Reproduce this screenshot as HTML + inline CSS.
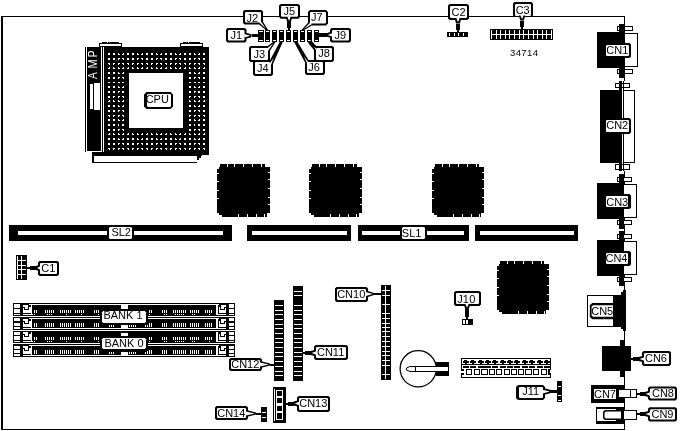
<!DOCTYPE html>
<html><head><meta charset="utf-8"><title>Motherboard</title>
<style>
html,body{margin:0;padding:0;background:#fff;}
body{width:683px;height:431px;overflow:hidden;font-family:"Liberation Sans",sans-serif;}
svg{display:block;will-change:transform;}
svg text{font-family:"Liberation Sans",sans-serif;}
</style></head><body>
<svg width="683" height="431" viewBox="0 0 683 431" shape-rendering="crispEdges">
<rect x="0" y="0" width="683" height="431" fill="#fff"/>
<rect x="1" y="16" width="2" height="414" fill="#000"/>
<rect x="1" y="16" width="624" height="1" fill="#000"/>
<rect x="1" y="429" width="624" height="1" fill="#000"/>
<rect x="624" y="16" width="1" height="414" fill="#000"/>
<rect x="102" y="42" width="17" height="1" fill="#000"/>
<rect x="99" y="43" width="23" height="4" fill="#000"/>
<rect x="100" y="44" width="21" height="2" fill="#fff"/>
<rect x="107" y="42" width="1" height="1" fill="#fff"/>
<rect x="183" y="42" width="17" height="1" fill="#000"/>
<rect x="180" y="43" width="23" height="4" fill="#000"/>
<rect x="181" y="44" width="21" height="2" fill="#fff"/>
<rect x="188" y="42" width="1" height="1" fill="#fff"/>
<rect x="85" y="47" width="1" height="105" fill="#000"/>
<rect x="87" y="47" width="14" height="104" fill="#000"/>
<rect x="102" y="47" width="1" height="105" fill="#000"/>
<rect x="90" y="84" width="3" height="25" fill="#fff"/>
<rect x="94" y="83" width="6" height="27" fill="#fff"/>
<rect x="104" y="47" width="105" height="108" fill="#000"/>
<rect x="92" y="152" width="110" height="11" fill="#000"/>
<rect x="94" y="156" width="103" height="6" fill="#fff"/>
<rect x="197" y="160" width="6" height="3" fill="#fff"/>
<rect x="199" y="158" width="4" height="2" fill="#fff"/>
<rect x="201" y="156" width="2" height="2" fill="#fff"/>
<rect x="104" y="152" width="105" height="3" fill="#000"/>
<rect x="129" y="73" width="54" height="55" fill="#fff"/>
<path fill="#fff" d="M108 53h2v1h-2zM113 53h2v1h-2zM118 53h1v1h-1zM123 53h1v1h-1zM127 53h2v1h-2zM132 53h2v1h-2zM137 53h1v1h-1zM142 53h1v1h-1zM146 53h2v1h-2zM151 53h2v1h-2zM156 53h1v1h-1zM161 53h1v1h-1zM165 53h2v1h-2zM170 53h2v1h-2zM175 53h1v1h-1zM180 53h1v1h-1zM184 53h2v1h-2zM189 53h2v1h-2zM194 53h1v1h-1zM199 53h1v1h-1zM203 53h2v1h-2zM108 54h2v1h-2zM113 54h2v1h-2zM118 54h2v1h-2zM122 54h2v1h-2zM127 54h2v1h-2zM132 54h2v1h-2zM137 54h2v1h-2zM141 54h2v1h-2zM146 54h2v1h-2zM151 54h2v1h-2zM156 54h2v1h-2zM160 54h2v1h-2zM165 54h2v1h-2zM170 54h2v1h-2zM175 54h2v1h-2zM179 54h2v1h-2zM184 54h2v1h-2zM189 54h2v1h-2zM194 54h2v1h-2zM198 54h2v1h-2zM203 54h2v1h-2zM108 58h2v1h-2zM113 58h2v1h-2zM118 58h2v1h-2zM122 58h2v1h-2zM127 58h2v1h-2zM132 58h2v1h-2zM137 58h2v1h-2zM141 58h2v1h-2zM146 58h2v1h-2zM151 58h2v1h-2zM156 58h2v1h-2zM160 58h2v1h-2zM165 58h2v1h-2zM170 58h2v1h-2zM175 58h2v1h-2zM179 58h2v1h-2zM184 58h2v1h-2zM189 58h2v1h-2zM194 58h2v1h-2zM198 58h2v1h-2zM203 58h2v1h-2zM108 59h2v1h-2zM113 59h2v1h-2zM118 59h1v1h-1zM123 59h1v1h-1zM127 59h2v1h-2zM132 59h2v1h-2zM137 59h1v1h-1zM142 59h1v1h-1zM146 59h2v1h-2zM151 59h2v1h-2zM156 59h1v1h-1zM161 59h1v1h-1zM165 59h2v1h-2zM170 59h2v1h-2zM175 59h1v1h-1zM180 59h1v1h-1zM184 59h2v1h-2zM189 59h2v1h-2zM194 59h1v1h-1zM199 59h1v1h-1zM203 59h2v1h-2zM108 63h2v1h-2zM113 63h2v1h-2zM118 63h2v1h-2zM122 63h2v1h-2zM127 63h2v1h-2zM132 63h2v1h-2zM137 63h2v1h-2zM141 63h2v1h-2zM146 63h2v1h-2zM151 63h2v1h-2zM156 63h2v1h-2zM160 63h2v1h-2zM165 63h2v1h-2zM170 63h2v1h-2zM175 63h2v1h-2zM179 63h2v1h-2zM184 63h2v1h-2zM189 63h2v1h-2zM194 63h2v1h-2zM198 63h2v1h-2zM203 63h2v1h-2zM109 64h1v1h-1zM113 64h1v1h-1zM118 64h1v1h-1zM123 64h1v1h-1zM128 64h1v1h-1zM132 64h1v1h-1zM137 64h1v1h-1zM142 64h1v1h-1zM147 64h1v1h-1zM151 64h1v1h-1zM156 64h1v1h-1zM161 64h1v1h-1zM166 64h1v1h-1zM170 64h1v1h-1zM175 64h1v1h-1zM180 64h1v1h-1zM185 64h1v1h-1zM189 64h1v1h-1zM194 64h1v1h-1zM199 64h1v1h-1zM204 64h1v1h-1zM109 67h1v1h-1zM113 67h1v1h-1zM118 67h1v1h-1zM123 67h1v1h-1zM128 67h1v1h-1zM132 67h1v1h-1zM137 67h1v1h-1zM142 67h1v1h-1zM147 67h1v1h-1zM151 67h1v1h-1zM156 67h1v1h-1zM161 67h1v1h-1zM166 67h1v1h-1zM170 67h1v1h-1zM175 67h1v1h-1zM180 67h1v1h-1zM185 67h1v1h-1zM189 67h1v1h-1zM194 67h1v1h-1zM199 67h1v1h-1zM204 67h1v1h-1zM108 68h2v1h-2zM113 68h2v1h-2zM118 68h2v1h-2zM122 68h2v1h-2zM127 68h2v1h-2zM132 68h2v1h-2zM137 68h2v1h-2zM141 68h2v1h-2zM146 68h2v1h-2zM151 68h2v1h-2zM156 68h2v1h-2zM160 68h2v1h-2zM165 68h2v1h-2zM170 68h2v1h-2zM175 68h2v1h-2zM179 68h2v1h-2zM184 68h2v1h-2zM189 68h2v1h-2zM194 68h2v1h-2zM198 68h2v1h-2zM203 68h2v1h-2zM108 72h2v1h-2zM113 72h2v1h-2zM118 72h1v1h-1zM123 72h1v1h-1zM189 72h2v1h-2zM194 72h1v1h-1zM199 72h1v1h-1zM203 72h2v1h-2zM108 73h2v1h-2zM113 73h2v1h-2zM118 73h2v1h-2zM122 73h2v1h-2zM189 73h2v1h-2zM194 73h2v1h-2zM198 73h2v1h-2zM203 73h2v1h-2zM108 77h2v1h-2zM113 77h2v1h-2zM118 77h2v1h-2zM122 77h2v1h-2zM189 77h2v1h-2zM194 77h2v1h-2zM198 77h2v1h-2zM203 77h2v1h-2zM108 78h2v1h-2zM113 78h2v1h-2zM118 78h1v1h-1zM123 78h1v1h-1zM189 78h2v1h-2zM194 78h1v1h-1zM199 78h1v1h-1zM203 78h2v1h-2zM108 82h2v1h-2zM113 82h2v1h-2zM118 82h2v1h-2zM122 82h2v1h-2zM189 82h2v1h-2zM194 82h2v1h-2zM198 82h2v1h-2zM203 82h2v1h-2zM108 86h2v1h-2zM113 86h2v1h-2zM118 86h1v1h-1zM123 86h1v1h-1zM189 86h2v1h-2zM194 86h1v1h-1zM199 86h1v1h-1zM203 86h2v1h-2zM108 87h2v1h-2zM113 87h2v1h-2zM118 87h2v1h-2zM122 87h2v1h-2zM189 87h2v1h-2zM194 87h2v1h-2zM198 87h2v1h-2zM203 87h2v1h-2zM108 91h2v1h-2zM113 91h2v1h-2zM118 91h2v1h-2zM122 91h2v1h-2zM189 91h2v1h-2zM194 91h2v1h-2zM198 91h2v1h-2zM203 91h2v1h-2zM108 92h2v1h-2zM113 92h2v1h-2zM118 92h1v1h-1zM122 92h2v1h-2zM189 92h2v1h-2zM194 92h1v1h-1zM198 92h2v1h-2zM203 92h2v1h-2zM108 96h2v1h-2zM113 96h2v1h-2zM118 96h2v1h-2zM122 96h2v1h-2zM189 96h2v1h-2zM194 96h2v1h-2zM198 96h2v1h-2zM203 96h2v1h-2zM108 97h2v1h-2zM113 97h1v1h-1zM118 97h1v1h-1zM123 97h1v1h-1zM189 97h1v1h-1zM194 97h1v1h-1zM199 97h1v1h-1zM203 97h2v1h-2zM109 100h1v1h-1zM113 100h1v1h-1zM118 100h1v1h-1zM123 100h1v1h-1zM189 100h1v1h-1zM194 100h1v1h-1zM199 100h1v1h-1zM204 100h1v1h-1zM108 101h2v1h-2zM113 101h2v1h-2zM118 101h2v1h-2zM122 101h2v1h-2zM189 101h2v1h-2zM194 101h2v1h-2zM198 101h2v1h-2zM203 101h2v1h-2zM108 105h2v1h-2zM113 105h2v1h-2zM118 105h1v1h-1zM123 105h1v1h-1zM189 105h2v1h-2zM194 105h1v1h-1zM199 105h1v1h-1zM203 105h2v1h-2zM108 106h2v1h-2zM113 106h2v1h-2zM118 106h2v1h-2zM122 106h2v1h-2zM189 106h2v1h-2zM194 106h2v1h-2zM198 106h2v1h-2zM203 106h2v1h-2zM108 110h2v1h-2zM113 110h2v1h-2zM118 110h2v1h-2zM122 110h2v1h-2zM189 110h2v1h-2zM194 110h2v1h-2zM198 110h2v1h-2zM203 110h2v1h-2zM108 111h2v1h-2zM113 111h2v1h-2zM118 111h1v1h-1zM123 111h1v1h-1zM189 111h2v1h-2zM194 111h1v1h-1zM199 111h1v1h-1zM203 111h2v1h-2zM108 115h2v1h-2zM113 115h2v1h-2zM118 115h2v1h-2zM122 115h2v1h-2zM189 115h2v1h-2zM194 115h2v1h-2zM198 115h2v1h-2zM203 115h2v1h-2zM109 116h1v1h-1zM113 116h1v1h-1zM118 116h1v1h-1zM123 116h1v1h-1zM189 116h1v1h-1zM194 116h1v1h-1zM199 116h1v1h-1zM204 116h1v1h-1zM108 119h2v1h-2zM113 119h2v1h-2zM118 119h1v1h-1zM123 119h1v1h-1zM189 119h2v1h-2zM194 119h1v1h-1zM199 119h1v1h-1zM203 119h2v1h-2zM108 120h2v1h-2zM113 120h2v1h-2zM118 120h2v1h-2zM122 120h2v1h-2zM189 120h2v1h-2zM194 120h2v1h-2zM198 120h2v1h-2zM203 120h2v1h-2zM108 124h2v1h-2zM113 124h2v1h-2zM118 124h1v1h-1zM122 124h2v1h-2zM189 124h2v1h-2zM194 124h1v1h-1zM198 124h2v1h-2zM203 124h2v1h-2zM108 125h2v1h-2zM113 125h2v1h-2zM118 125h1v1h-1zM122 125h2v1h-2zM189 125h2v1h-2zM194 125h1v1h-1zM198 125h2v1h-2zM203 125h2v1h-2zM108 129h2v1h-2zM113 129h2v1h-2zM118 129h2v1h-2zM122 129h2v1h-2zM189 129h2v1h-2zM194 129h2v1h-2zM198 129h2v1h-2zM203 129h2v1h-2zM108 130h2v1h-2zM113 130h2v1h-2zM118 130h1v1h-1zM123 130h1v1h-1zM189 130h2v1h-2zM194 130h1v1h-1zM199 130h1v1h-1zM203 130h2v1h-2zM109 133h1v1h-1zM113 133h1v1h-1zM118 133h1v1h-1zM123 133h1v1h-1zM128 133h1v1h-1zM132 133h1v1h-1zM137 133h1v1h-1zM142 133h1v1h-1zM147 133h1v1h-1zM151 133h1v1h-1zM156 133h1v1h-1zM161 133h1v1h-1zM166 133h1v1h-1zM170 133h1v1h-1zM175 133h1v1h-1zM180 133h1v1h-1zM185 133h1v1h-1zM189 133h1v1h-1zM194 133h1v1h-1zM199 133h1v1h-1zM204 133h1v1h-1zM108 134h2v1h-2zM113 134h2v1h-2zM118 134h2v1h-2zM122 134h2v1h-2zM127 134h2v1h-2zM132 134h2v1h-2zM137 134h2v1h-2zM141 134h2v1h-2zM146 134h2v1h-2zM151 134h2v1h-2zM156 134h2v1h-2zM160 134h2v1h-2zM165 134h2v1h-2zM170 134h2v1h-2zM175 134h2v1h-2zM179 134h2v1h-2zM184 134h2v1h-2zM189 134h2v1h-2zM194 134h2v1h-2zM198 134h2v1h-2zM203 134h2v1h-2zM108 138h2v1h-2zM113 138h2v1h-2zM118 138h1v1h-1zM123 138h1v1h-1zM127 138h2v1h-2zM132 138h2v1h-2zM137 138h1v1h-1zM142 138h1v1h-1zM146 138h2v1h-2zM151 138h2v1h-2zM156 138h1v1h-1zM161 138h1v1h-1zM165 138h2v1h-2zM170 138h2v1h-2zM175 138h1v1h-1zM180 138h1v1h-1zM184 138h2v1h-2zM189 138h2v1h-2zM194 138h1v1h-1zM199 138h1v1h-1zM203 138h2v1h-2zM108 139h2v1h-2zM113 139h2v1h-2zM118 139h2v1h-2zM122 139h2v1h-2zM127 139h2v1h-2zM132 139h2v1h-2zM137 139h2v1h-2zM141 139h2v1h-2zM146 139h2v1h-2zM151 139h2v1h-2zM156 139h2v1h-2zM160 139h2v1h-2zM165 139h2v1h-2zM170 139h2v1h-2zM175 139h2v1h-2zM179 139h2v1h-2zM184 139h2v1h-2zM189 139h2v1h-2zM194 139h2v1h-2zM198 139h2v1h-2zM203 139h2v1h-2zM108 143h2v1h-2zM113 143h2v1h-2zM118 143h2v1h-2zM122 143h2v1h-2zM127 143h2v1h-2zM132 143h2v1h-2zM137 143h2v1h-2zM141 143h2v1h-2zM146 143h2v1h-2zM151 143h2v1h-2zM156 143h2v1h-2zM160 143h2v1h-2zM165 143h2v1h-2zM170 143h2v1h-2zM175 143h2v1h-2zM179 143h2v1h-2zM184 143h2v1h-2zM189 143h2v1h-2zM194 143h2v1h-2zM198 143h2v1h-2zM203 143h2v1h-2zM108 144h2v1h-2zM113 144h2v1h-2zM118 144h1v1h-1zM123 144h1v1h-1zM127 144h2v1h-2zM132 144h2v1h-2zM137 144h1v1h-1zM142 144h1v1h-1zM146 144h2v1h-2zM151 144h2v1h-2zM156 144h1v1h-1zM161 144h1v1h-1zM165 144h2v1h-2zM170 144h2v1h-2zM175 144h1v1h-1zM180 144h1v1h-1zM184 144h2v1h-2zM189 144h2v1h-2zM194 144h1v1h-1zM199 144h1v1h-1zM203 144h2v1h-2zM108 148h2v1h-2zM113 148h2v1h-2zM118 148h2v1h-2zM122 148h2v1h-2zM127 148h2v1h-2zM132 148h2v1h-2zM137 148h2v1h-2zM141 148h2v1h-2zM146 148h2v1h-2zM151 148h2v1h-2zM156 148h2v1h-2zM160 148h2v1h-2zM165 148h2v1h-2zM170 148h2v1h-2zM175 148h2v1h-2zM179 148h2v1h-2zM184 148h2v1h-2zM189 148h2v1h-2zM194 148h2v1h-2zM198 148h2v1h-2zM203 148h2v1h-2zM109 149h1v1h-1zM113 149h1v1h-1zM118 149h1v1h-1zM123 149h1v1h-1zM128 149h1v1h-1zM132 149h1v1h-1zM137 149h1v1h-1zM142 149h1v1h-1zM147 149h1v1h-1zM151 149h1v1h-1zM156 149h1v1h-1zM161 149h1v1h-1zM166 149h1v1h-1zM170 149h1v1h-1zM175 149h1v1h-1zM180 149h1v1h-1zM185 149h1v1h-1zM189 149h1v1h-1zM194 149h1v1h-1zM199 149h1v1h-1zM204 149h1v1h-1z"/>
<g shape-rendering="geometricPrecision">
<polygon points="146.5,92 170.5,92 173,94.5 173,106.5 170.5,109 146.5,109 144,106.5 144,94.5" fill="#000"/>
<polygon points="148,94 170,94 171,95 171,106 170,107 148,107 147,106 147,95" fill="#fff"/>
</g>
<rect x="258" y="30" width="6" height="12" fill="#000"/>
<rect x="259" y="31" width="4" height="1" fill="#fff"/>
<rect x="259" y="40" width="4" height="1" fill="#fff"/>
<rect x="265" y="30" width="5" height="12" fill="#000"/>
<rect x="266" y="31" width="3" height="1" fill="#fff"/>
<rect x="266" y="40" width="3" height="1" fill="#fff"/>
<rect x="272" y="30" width="5" height="12" fill="#000"/>
<rect x="273" y="31" width="3" height="1" fill="#fff"/>
<rect x="273" y="40" width="3" height="1" fill="#fff"/>
<rect x="279" y="30" width="5" height="12" fill="#000"/>
<rect x="280" y="31" width="3" height="1" fill="#fff"/>
<rect x="280" y="40" width="3" height="1" fill="#fff"/>
<rect x="286" y="30" width="5" height="12" fill="#000"/>
<rect x="287" y="31" width="3" height="1" fill="#fff"/>
<rect x="287" y="40" width="3" height="1" fill="#fff"/>
<rect x="293" y="30" width="5" height="12" fill="#000"/>
<rect x="294" y="31" width="3" height="1" fill="#fff"/>
<rect x="294" y="40" width="3" height="1" fill="#fff"/>
<rect x="300" y="30" width="5" height="12" fill="#000"/>
<rect x="301" y="31" width="3" height="1" fill="#fff"/>
<rect x="301" y="40" width="3" height="1" fill="#fff"/>
<rect x="307" y="30" width="5" height="12" fill="#000"/>
<rect x="308" y="31" width="3" height="1" fill="#fff"/>
<rect x="308" y="40" width="3" height="1" fill="#fff"/>
<rect x="314" y="30" width="5" height="12" fill="#000"/>
<rect x="315" y="31" width="3" height="1" fill="#fff"/>
<rect x="315" y="40" width="3" height="1" fill="#fff"/>
<g shape-rendering="geometricPrecision">
<polygon points="227.6,28 244.9,28 246.5,29.6 246.5,40.9 244.9,42.5 227.6,42.5 226,40.9 226,29.6" fill="#000"/>
<polygon points="228.8,30 243.7,30 244.5,30.8 244.5,39.7 243.7,40.5 228.8,40.5 228,39.7 228,30.8" fill="#fff"/>
</g>
<g shape-rendering="geometricPrecision">
<polygon points="245,32.5 251.5,34.3 251.5,37.3 245,39.1" fill="#000"/>
<polygon points="244.3,34.1 250.3,35.8 244.3,37.5" fill="#fff"/>
</g>
<rect x="251.5" y="34.3" width="6.5" height="3" fill="#000"/>
<rect x="258" y="34.8" width="0" height="2" fill="#000"/>
<g shape-rendering="geometricPrecision">
<polygon points="244.6,10 261.4,10 263,11.6 263,22.9 261.4,24.5 244.6,24.5 243,22.9 243,11.6" fill="#000"/>
<polygon points="245.8,12 260.2,12 261,12.8 261,21.7 260.2,22.5 245.8,22.5 245,21.7 245,12.8" fill="#fff"/>
</g>
<g shape-rendering="geometricPrecision">
<polygon points="259.186,24.5718 266.895,31.0239 268.105,29.9761 262.814,21.4282" fill="#000"/>
<polygon points="259.186,22.5869 265.875,28.625 260.849,21.146" fill="#fff"/>
</g>
<g shape-rendering="geometricPrecision">
<polygon points="280.6,4 298.4,4 300,5.6 300,17.1 298.4,18.7 280.6,18.7 279,17.1 279,5.6" fill="#000"/>
<polygon points="281.8,6 297.2,6 298,6.8 298,15.9 297.2,16.7 281.8,16.7 281,15.9 281,6.8" fill="#fff"/>
</g>
<g shape-rendering="geometricPrecision">
<polygon points="285.7,17.2 287.2,22.2 290.8,22.2 292.3,17.2" fill="#000"/>
<polygon points="287.3,16.5 289,21 290.7,16.5" fill="#fff"/>
</g>
<rect x="287.2" y="22.2" width="3.6" height="5.8" fill="#000"/>
<rect x="288" y="28" width="2" height="2" fill="#000"/>
<g shape-rendering="geometricPrecision">
<polygon points="310,10 326,10 328,12 328,23.5 326,25.5 310,25.5 308,23.5 308,12" fill="#000"/>
<polygon points="310.8,12 325.2,12 326,12.8 326,22.7 325.2,23.5 310.8,23.5 310,22.7 310,12.8" fill="#fff"/>
</g>
<g shape-rendering="geometricPrecision">
<polygon points="308.487,22.1373 301.496,29.8791 302.504,31.1209 311.513,25.8627" fill="#000"/>
<polygon points="310.471,22.2004 304,28.875 311.858,23.9078" fill="#fff"/>
</g>
<g shape-rendering="geometricPrecision">
<polygon points="331.6,28 349.4,28 351,29.6 351,40.9 349.4,42.5 331.6,42.5 330,40.9 330,29.6" fill="#000"/>
<polygon points="332.8,30 348.2,30 349,30.8 349,39.7 348.2,40.5 332.8,40.5 332,39.7 332,30.8" fill="#fff"/>
</g>
<g shape-rendering="geometricPrecision">
<polygon points="331.5,31.6 326.5,33.2 326.5,36.6 331.5,38.2" fill="#000"/>
<polygon points="332.2,33.2 327.7,34.9 332.2,36.6" fill="#fff"/>
</g>
<rect x="319" y="33.2" width="7.5" height="3.4" fill="#000"/>
<rect x="319" y="33.9" width="0" height="2" fill="#000"/>
<g shape-rendering="geometricPrecision">
<polygon points="250.6,46 268.4,46 270,47.6 270,60.4 268.4,62 250.6,62 249,60.4 249,47.6" fill="#000"/>
<polygon points="251.8,48 267.2,48 268,48.8 268,59.2 267.2,60 251.8,60 251,59.2 251,48.8" fill="#fff"/>
</g>
<g shape-rendering="geometricPrecision">
<polygon points="269.901,50.774 275.585,42.0459 274.415,40.9541 266.099,47.226" fill="#000"/>
<polygon points="267.927,50.9836 273.25,43.375 266.026,49.2096" fill="#fff"/>
</g>
<g shape-rendering="geometricPrecision">
<polygon points="254.6,60 271.4,60 273,61.6 273,74.4 271.4,76 254.6,76 253,74.4 253,61.6" fill="#000"/>
<polygon points="255.8,62 270.2,62 271,62.8 271,73.2 270.2,74 255.8,74 255,73.2 255,62.8" fill="#fff"/>
</g>
<g shape-rendering="geometricPrecision">
<polygon points="272.977,63.9654 282.758,42.1144 280.242,40.8856 269.023,62.0346" fill="#000"/>
<polygon points="271.15,64.7428 273.625,57.625 269.533,63.9529" fill="#fff"/>
</g>
<g shape-rendering="geometricPrecision">
<polygon points="315.6,46 332.4,46 334,47.6 334,60.4 332.4,62 315.6,62 314,60.4 314,47.6" fill="#000"/>
<polygon points="316.8,48 331.2,48 332,48.8 332,59.2 331.2,60 316.8,60 316,59.2 316,48.8" fill="#fff"/>
</g>
<g shape-rendering="geometricPrecision">
<polygon points="317.663,47.5592 311.011,40.1901 307.989,42.8099 314.337,50.4408" fill="#000"/>
<polygon points="317.663,49.5441 314.05,46.75 316.302,50.723" fill="#fff"/>
</g>
<g shape-rendering="geometricPrecision">
<polygon points="306.6,60 323.4,60 325,61.6 325,73.4 323.4,75 306.6,75 305,73.4 305,61.6" fill="#000"/>
<polygon points="307.8,62 322.2,62 323,62.8 323,72.2 322.2,73 307.8,73 307,72.2 307,62.8" fill="#fff"/>
</g>
<g shape-rendering="geometricPrecision">
<polygon points="309.41,61.4085 296.802,40.7558 294.198,42.2442 305.59,63.5915" fill="#000"/>
<polygon points="309.026,63.3558 303.9,56.2 307.463,64.2489" fill="#fff"/>
</g>
<g shape-rendering="geometricPrecision">
<polygon points="449.6,4 467.4,4 469,5.6 469,18.4 467.4,20 449.6,20 448,18.4 448,5.6" fill="#000"/>
<polygon points="450.8,6 466.2,6 467,6.8 467,17.2 466.2,18 450.8,18 450,17.2 450,6.8" fill="#fff"/>
</g>
<g shape-rendering="geometricPrecision">
<polygon points="454.7,18.5 456,23.5 460,23.5 461.3,18.5" fill="#000"/>
<polygon points="456.3,17.8 458,22.3 459.7,17.8" fill="#fff"/>
</g>
<rect x="456" y="23.5" width="4" height="6.5" fill="#000"/>
<rect x="457" y="30" width="2" height="2" fill="#000"/>
<rect x="447" y="32" width="21" height="5" fill="#000"/>
<rect x="449" y="33" width="1" height="3" fill="#fff"/>
<rect x="453.5" y="33" width="1" height="3" fill="#fff"/>
<rect x="458" y="33" width="1" height="3" fill="#fff"/>
<rect x="462.5" y="33" width="1" height="3" fill="#fff"/>
<g shape-rendering="geometricPrecision">
<polygon points="514.6,2 531.4,2 533,3.6 533,15.4 531.4,17 514.6,17 513,15.4 513,3.6" fill="#000"/>
<polygon points="515.8,4 530.2,4 531,4.8 531,15.2 530.2,16 515.8,16 515,15.2 515,4.8" fill="#fff"/>
</g>
<g shape-rendering="geometricPrecision">
<polygon points="518.7,15.5 520.3,20.5 523.7,20.5 525.3,15.5" fill="#000"/>
<polygon points="520.3,14.8 522,19.3 523.7,14.8" fill="#fff"/>
</g>
<rect x="520.3" y="20.5" width="3.4" height="6.5" fill="#000"/>
<rect x="521" y="27" width="2" height="2" fill="#000"/>
<rect x="490" y="29" width="63" height="11" fill="#000"/>
<rect x="491" y="30" width="1" height="9" fill="#fff"/>
<rect x="496" y="30" width="1" height="9" fill="#fff"/>
<rect x="500" y="30" width="1" height="9" fill="#fff"/>
<rect x="505" y="30" width="1" height="9" fill="#fff"/>
<rect x="509" y="30" width="1" height="9" fill="#fff"/>
<rect x="514" y="30" width="1" height="9" fill="#fff"/>
<rect x="519" y="30" width="1" height="9" fill="#fff"/>
<rect x="523" y="30" width="1" height="9" fill="#fff"/>
<rect x="528" y="30" width="1" height="9" fill="#fff"/>
<rect x="533" y="30" width="1" height="9" fill="#fff"/>
<rect x="537" y="30" width="1" height="9" fill="#fff"/>
<rect x="542" y="30" width="1" height="9" fill="#fff"/>
<rect x="546" y="30" width="1" height="9" fill="#fff"/>
<rect x="551" y="30" width="1" height="9" fill="#fff"/>
<rect x="491" y="34" width="61" height="1" fill="#fff"/>
<rect x="597" y="32" width="28" height="36" fill="#000"/>
<rect x="625" y="33" width="13" height="34" fill="#000"/>
<rect x="625" y="34" width="12" height="32" fill="#fff"/>
<rect x="617" y="26" width="16" height="5" fill="#000"/>
<rect x="618" y="27" width="14" height="3" fill="#fff"/>
<rect x="619" y="24" width="6" height="8" fill="#000"/>
<rect x="617" y="69" width="16" height="5" fill="#000"/>
<rect x="618" y="70" width="14" height="3" fill="#fff"/>
<rect x="619" y="68" width="6" height="10" fill="#000"/>
<g shape-rendering="geometricPrecision">
<polygon points="605.6,43 629.4,43 631,44.6 631,56.4 629.4,58 605.6,58 604,56.4 604,44.6" fill="#000"/>
<polygon points="606.8,45 628.2,45 629,45.8 629,55.2 628.2,56 606.8,56 606,55.2 606,45.8" fill="#fff"/>
</g>
<rect x="624" y="81" width="1" height="90" fill="#fff"/>
<rect x="600" y="90" width="22" height="73" fill="#000"/>
<rect x="623" y="81" width="1" height="90" fill="#000"/>
<rect x="624" y="90" width="11" height="73" fill="#000"/>
<rect x="624" y="91" width="10" height="71" fill="#fff"/>
<rect x="622" y="81" width="1" height="90" fill="#fff"/>
<rect x="615" y="83" width="15" height="5" fill="#000"/>
<rect x="616" y="84" width="13" height="3" fill="#fff"/>
<rect x="619" y="81" width="3" height="9" fill="#000"/>
<rect x="623" y="81" width="1" height="9" fill="#000"/>
<rect x="615" y="164" width="15" height="6" fill="#000"/>
<rect x="616" y="165" width="13" height="4" fill="#fff"/>
<rect x="619" y="163" width="3" height="8" fill="#000"/>
<rect x="623" y="163" width="1" height="8" fill="#000"/>
<g shape-rendering="geometricPrecision">
<polygon points="605.6,118 629.4,118 631,119.6 631,132.4 629.4,134 605.6,134 604,132.4 604,119.6" fill="#000"/>
<polygon points="606.8,120 628.2,120 629,120.8 629,131.2 628.2,132 606.8,132 606,131.2 606,120.8" fill="#fff"/>
</g>
<rect x="597" y="183" width="27" height="36" fill="#000"/>
<rect x="624" y="184" width="13" height="34" fill="#000"/>
<rect x="624" y="185" width="12" height="32" fill="#fff"/>
<rect x="617" y="177" width="15" height="5" fill="#000"/>
<rect x="618" y="178" width="13" height="3" fill="#fff"/>
<rect x="619" y="174" width="6" height="9" fill="#000"/>
<rect x="624" y="178" width="1" height="3" fill="#fff"/>
<rect x="617" y="220" width="15" height="5" fill="#000"/>
<rect x="618" y="221" width="13" height="3" fill="#fff"/>
<rect x="619" y="219" width="6" height="10" fill="#000"/>
<rect x="624" y="221" width="1" height="3" fill="#fff"/>
<g shape-rendering="geometricPrecision">
<polygon points="605.6,194 629.4,194 631,195.6 631,207.4 629.4,209 605.6,209 604,207.4 604,195.6" fill="#000"/>
<polygon points="606.8,196 627.2,196 628,196.8 628,206.2 627.2,207 606.8,207 606,206.2 606,196.8" fill="#fff"/>
</g>
<rect x="597" y="240" width="27" height="36" fill="#000"/>
<rect x="624" y="241" width="13" height="34" fill="#000"/>
<rect x="624" y="242" width="12" height="32" fill="#fff"/>
<rect x="617" y="234" width="15" height="5" fill="#000"/>
<rect x="618" y="235" width="13" height="3" fill="#fff"/>
<rect x="619" y="231" width="6" height="9" fill="#000"/>
<rect x="624" y="235" width="1" height="3" fill="#fff"/>
<rect x="617" y="277" width="15" height="5" fill="#000"/>
<rect x="618" y="278" width="13" height="3" fill="#fff"/>
<rect x="619" y="276" width="6" height="10" fill="#000"/>
<rect x="624" y="278" width="1" height="3" fill="#fff"/>
<g shape-rendering="geometricPrecision">
<polygon points="605.6,251 629.4,251 631,252.6 631,264.4 629.4,266 605.6,266 604,264.4 604,252.6" fill="#000"/>
<polygon points="606.8,253 627.2,253 628,253.8 628,263.2 627.2,264 606.8,264 606,263.2 606,253.8" fill="#fff"/>
</g>
<rect x="587" y="295" width="32" height="32" fill="#000"/>
<rect x="588" y="296" width="31" height="30" fill="#fff"/>
<rect x="623" y="290" width="3" height="41" fill="#000"/>
<rect x="621" y="292" width="5" height="37" fill="#000"/>
<rect x="619" y="295" width="7" height="32" fill="#000"/>
<rect x="613" y="296" width="13" height="30" fill="#000"/>
<g shape-rendering="geometricPrecision">
<polygon points="592.3,303 614,303 614,319.2 592.3,319.2 589.8,317 589.8,305.2" fill="#000"/>
<polygon points="593,305.2 613.3,305.2 613.3,316.8 593,316.8 591.6,315.5 591.6,306.5" fill="#fff"/>
</g>
<rect x="613" y="303" width="1" height="17" fill="#000"/>
<rect x="602" y="346" width="29" height="25" fill="#000"/>
<rect x="620" y="340" width="5" height="37" fill="#000"/>
<g shape-rendering="geometricPrecision">
<polygon points="643.6,351 669.4,351 671,352.6 671,364.4 669.4,366 643.6,366 642,364.4 642,352.6" fill="#000"/>
<polygon points="644.8,353 668.2,353 669,353.8 669,363.2 668.2,364 644.8,364 644,363.2 644,353.8" fill="#fff"/>
</g>
<g shape-rendering="geometricPrecision">
<polygon points="643.5,355.7 638.5,357 638.5,361 643.5,362.3" fill="#000"/>
<polygon points="644.2,357.3 639.7,359 644.2,360.7" fill="#fff"/>
</g>
<rect x="633" y="357" width="5.5" height="4" fill="#000"/>
<rect x="631" y="358" width="2" height="2" fill="#000"/>
<rect x="591" y="385" width="34" height="18" fill="#000"/>
<rect x="594" y="389" width="22" height="10" fill="#fff"/>
<rect x="619" y="389" width="18" height="9" fill="#000"/>
<rect x="619" y="390" width="17" height="7" fill="#fff"/>
<rect x="630" y="389" width="1" height="9" fill="#000"/>
<rect x="619" y="389" width="6" height="1" fill="#000"/>
<rect x="619" y="397" width="6" height="1" fill="#000"/>
<rect x="619" y="390" width="6" height="7" fill="#fff"/>
<g shape-rendering="geometricPrecision">
<polygon points="649.6,386.4 675.4,386.4 677,388 677,399 675.4,400.6 649.6,400.6 648,399 648,388" fill="#000"/>
<polygon points="650.8,388.4 674.2,388.4 675,389.2 675,397.8 674.2,398.6 650.8,398.6 650,397.8 650,389.2" fill="#fff"/>
</g>
<g shape-rendering="geometricPrecision">
<polygon points="649.5,390.7 644.5,392 644.5,396 649.5,397.3" fill="#000"/>
<polygon points="650.2,392.3 645.7,394 650.2,395.7" fill="#fff"/>
</g>
<rect x="640" y="392" width="4.5" height="4" fill="#000"/>
<rect x="637" y="393" width="3" height="2" fill="#000"/>
<rect x="596" y="407" width="29" height="17" fill="#000"/>
<rect x="597" y="409" width="19" height="12" fill="#fff"/>
<rect x="603.75" y="410.75" width="20" height="8.5" rx="2.5" fill="#fff" stroke="#000" stroke-width="1.5" shape-rendering="geometricPrecision"/>
<rect x="621" y="407" width="4" height="17" fill="#000"/>
<rect x="624" y="410" width="13" height="10" fill="#000"/>
<rect x="624" y="411" width="12" height="8" fill="#fff"/>
<g shape-rendering="geometricPrecision">
<polygon points="649.6,407.2 675.4,407.2 677,408.8 677,420 675.4,421.6 649.6,421.6 648,420 648,408.8" fill="#000"/>
<polygon points="650.8,409.2 674.2,409.2 675,410 675,418.8 674.2,419.6 650.8,419.6 650,418.8 650,410" fill="#fff"/>
</g>
<g shape-rendering="geometricPrecision">
<polygon points="649.5,410.7 644.5,412 644.5,416 649.5,417.3" fill="#000"/>
<polygon points="650.2,412.3 645.7,414 650.2,415.7" fill="#fff"/>
</g>
<rect x="640" y="412" width="4.5" height="4" fill="#000"/>
<rect x="637" y="413" width="3" height="2" fill="#000"/>
<polygon points="220,164 265,164 265,167 270,167 270,213 267,213 267,217 222,217 222,215 219,215 219,213 217,213 217,169 219,169 219,167 220,167" fill="#000"/>
<rect x="227" y="164" width="1" height="3" fill="#fff"/>
<rect x="234" y="164" width="1" height="3" fill="#fff"/>
<rect x="243" y="164" width="1" height="3" fill="#fff"/>
<rect x="252" y="164" width="1" height="3" fill="#fff"/>
<rect x="261" y="164" width="1" height="3" fill="#fff"/>
<rect x="217" y="173" width="2" height="1" fill="#fff"/>
<rect x="217" y="181" width="2" height="1" fill="#fff"/>
<rect x="217" y="190" width="2" height="1" fill="#fff"/>
<rect x="217" y="198" width="2" height="1" fill="#fff"/>
<rect x="268" y="172" width="2" height="1" fill="#fff"/>
<rect x="268" y="179" width="2" height="1" fill="#fff"/>
<rect x="268" y="188" width="2" height="1" fill="#fff"/>
<rect x="268" y="197" width="2" height="1" fill="#fff"/>
<rect x="268" y="204" width="2" height="1" fill="#fff"/>
<rect x="238" y="214" width="1" height="3" fill="#fff"/>
<rect x="247" y="214" width="1" height="3" fill="#fff"/>
<rect x="256" y="214" width="1" height="3" fill="#fff"/>
<rect x="264" y="214" width="1" height="3" fill="#fff"/>
<polygon points="312,164 357,164 357,167 362,167 362,213 359,213 359,217 314,217 314,215 311,215 311,213 309,213 309,169 311,169 311,167 312,167" fill="#000"/>
<rect x="319" y="164" width="1" height="3" fill="#fff"/>
<rect x="326" y="164" width="1" height="3" fill="#fff"/>
<rect x="335" y="164" width="1" height="3" fill="#fff"/>
<rect x="344" y="164" width="1" height="3" fill="#fff"/>
<rect x="353" y="164" width="1" height="3" fill="#fff"/>
<rect x="309" y="173" width="2" height="1" fill="#fff"/>
<rect x="309" y="181" width="2" height="1" fill="#fff"/>
<rect x="309" y="190" width="2" height="1" fill="#fff"/>
<rect x="309" y="198" width="2" height="1" fill="#fff"/>
<rect x="360" y="172" width="2" height="1" fill="#fff"/>
<rect x="360" y="179" width="2" height="1" fill="#fff"/>
<rect x="360" y="188" width="2" height="1" fill="#fff"/>
<rect x="360" y="197" width="2" height="1" fill="#fff"/>
<rect x="360" y="204" width="2" height="1" fill="#fff"/>
<rect x="330" y="214" width="1" height="3" fill="#fff"/>
<rect x="339" y="214" width="1" height="3" fill="#fff"/>
<rect x="348" y="214" width="1" height="3" fill="#fff"/>
<rect x="356" y="214" width="1" height="3" fill="#fff"/>
<polygon points="435,164 479,164 479,167 484,167 484,213 481,213 481,217 437,217 437,215 434,215 434,213 432,213 432,169 434,169 434,167 435,167" fill="#000"/>
<rect x="442" y="164" width="1" height="3" fill="#fff"/>
<rect x="449" y="164" width="1" height="3" fill="#fff"/>
<rect x="458" y="164" width="1" height="3" fill="#fff"/>
<rect x="467" y="164" width="1" height="3" fill="#fff"/>
<rect x="476" y="164" width="1" height="3" fill="#fff"/>
<rect x="432" y="173" width="2" height="1" fill="#fff"/>
<rect x="432" y="181" width="2" height="1" fill="#fff"/>
<rect x="432" y="190" width="2" height="1" fill="#fff"/>
<rect x="432" y="198" width="2" height="1" fill="#fff"/>
<rect x="482" y="172" width="2" height="1" fill="#fff"/>
<rect x="482" y="179" width="2" height="1" fill="#fff"/>
<rect x="482" y="188" width="2" height="1" fill="#fff"/>
<rect x="482" y="197" width="2" height="1" fill="#fff"/>
<rect x="482" y="204" width="2" height="1" fill="#fff"/>
<rect x="453" y="214" width="1" height="3" fill="#fff"/>
<rect x="462" y="214" width="1" height="3" fill="#fff"/>
<rect x="471" y="214" width="1" height="3" fill="#fff"/>
<rect x="479" y="214" width="1" height="3" fill="#fff"/>
<polygon points="500,261 544,261 544,264 549,264 549,310 546,310 546,314 502,314 502,312 499,312 499,310 497,310 497,266 499,266 499,264 500,264" fill="#000"/>
<rect x="507" y="261" width="1" height="3" fill="#fff"/>
<rect x="514" y="261" width="1" height="3" fill="#fff"/>
<rect x="523" y="261" width="1" height="3" fill="#fff"/>
<rect x="532" y="261" width="1" height="3" fill="#fff"/>
<rect x="541" y="261" width="1" height="3" fill="#fff"/>
<rect x="497" y="270" width="2" height="1" fill="#fff"/>
<rect x="497" y="278" width="2" height="1" fill="#fff"/>
<rect x="497" y="287" width="2" height="1" fill="#fff"/>
<rect x="497" y="295" width="2" height="1" fill="#fff"/>
<rect x="547" y="269" width="2" height="1" fill="#fff"/>
<rect x="547" y="276" width="2" height="1" fill="#fff"/>
<rect x="547" y="285" width="2" height="1" fill="#fff"/>
<rect x="547" y="294" width="2" height="1" fill="#fff"/>
<rect x="547" y="301" width="2" height="1" fill="#fff"/>
<rect x="518" y="311" width="1" height="3" fill="#fff"/>
<rect x="527" y="311" width="1" height="3" fill="#fff"/>
<rect x="536" y="311" width="1" height="3" fill="#fff"/>
<rect x="544" y="311" width="1" height="3" fill="#fff"/>
<rect x="9" y="225" width="223" height="16" fill="#000"/>
<rect x="18" y="231" width="205" height="4" fill="#fff"/>
<rect x="247" y="225" width="104" height="16" fill="#000"/>
<rect x="252" y="231" width="95" height="4" fill="#fff"/>
<rect x="358" y="225" width="111" height="16" fill="#000"/>
<rect x="362" y="231" width="102" height="4" fill="#fff"/>
<rect x="475" y="225" width="103" height="16" fill="#000"/>
<rect x="480" y="231" width="94" height="4" fill="#fff"/>
<g shape-rendering="geometricPrecision">
<polygon points="107,225 134,225 134,225 134,241 134,241 107,241 107,241 107,225" fill="#000"/>
<polygon points="110,227 131,227 132,228 132,238 131,239 110,239 109,238 109,228" fill="#fff"/>
</g>
<g shape-rendering="geometricPrecision">
<polygon points="400,225 427,225 427,225 427,241 427,241 400,241 400,241 400,225" fill="#000"/>
<polygon points="403,227 424,227 425,228 425,238 424,239 403,239 402,238 402,228" fill="#fff"/>
</g>
<rect x="16" y="255" width="11" height="25" fill="#000"/>
<rect x="17" y="256" width="1" height="23" fill="#fff"/>
<rect x="21" y="256" width="1" height="23" fill="#fff"/>
<rect x="17" y="260" width="9" height="1" fill="#fff"/>
<rect x="17" y="265" width="9" height="1" fill="#fff"/>
<rect x="17" y="269" width="9" height="1" fill="#fff"/>
<rect x="17" y="274" width="9" height="1" fill="#fff"/>
<g shape-rendering="geometricPrecision">
<polygon points="39.6,261 57.4,261 59,262.6 59,274.4 57.4,276 39.6,276 38,274.4 38,262.6" fill="#000"/>
<polygon points="40.8,263 56.2,263 57,263.8 57,273.2 56.2,274 40.8,274 40,273.2 40,263.8" fill="#fff"/>
</g>
<g shape-rendering="geometricPrecision">
<polygon points="39.5,264.7 36,266 36,270 39.5,271.3" fill="#000"/>
<polygon points="40.2,266.3 37.2,268 40.2,269.7" fill="#fff"/>
</g>
<rect x="30" y="266" width="6" height="4" fill="#000"/>
<rect x="27" y="267" width="3" height="2" fill="#000"/>
<rect x="13" y="303" width="222" height="13" fill="#000"/>
<rect x="14" y="304" width="6" height="4" fill="#fff"/>
<rect x="229" y="304" width="5" height="4" fill="#fff"/>
<rect x="14" y="309" width="6" height="4" fill="#fff"/>
<rect x="229" y="309" width="5" height="4" fill="#fff"/>
<rect x="14" y="314" width="6" height="1" fill="#fff"/>
<rect x="229" y="314" width="5" height="1" fill="#fff"/>
<rect x="23" y="305" width="8" height="8" fill="#fff"/>
<rect x="218" y="305" width="8" height="8" fill="#fff"/>
<rect x="31" y="304" width="1" height="11" fill="#fff"/>
<rect x="217" y="304" width="1" height="11" fill="#fff"/>
<rect x="216" y="304" width="1" height="11" fill="#fff"/>
<rect x="23" y="314" width="10" height="1" fill="#fff"/>
<rect x="216" y="314" width="10" height="1" fill="#fff"/>
<rect x="23" y="307" width="2" height="1" fill="#000"/>
<rect x="224" y="307" width="2" height="1" fill="#000"/>
<rect x="24" y="307" width="1" height="3" fill="#000"/>
<rect x="224" y="307" width="1" height="3" fill="#000"/>
<rect x="24" y="309" width="5" height="1" fill="#000"/>
<rect x="220" y="309" width="5" height="1" fill="#000"/>
<rect x="28" y="304" width="1" height="6" fill="#000"/>
<rect x="220" y="304" width="1" height="6" fill="#000"/>
<rect x="29" y="305" width="2" height="2" fill="#000"/>
<rect x="218" y="305" width="2" height="2" fill="#000"/>
<rect x="218" y="307" width="1" height="7" fill="#000"/>
<rect x="29" y="304" width="190" height="1" fill="#fff"/>
<rect x="34" y="310" width="1" height="3" fill="#fff"/>
<rect x="36" y="310" width="1" height="3" fill="#fff"/>
<rect x="45" y="310" width="1" height="3" fill="#fff"/>
<rect x="47" y="310" width="1" height="3" fill="#fff"/>
<rect x="49" y="310" width="1" height="3" fill="#fff"/>
<rect x="51" y="310" width="1" height="3" fill="#fff"/>
<rect x="53" y="310" width="1" height="3" fill="#fff"/>
<rect x="60" y="310" width="1" height="3" fill="#fff"/>
<rect x="62" y="310" width="1" height="3" fill="#fff"/>
<rect x="64" y="310" width="1" height="3" fill="#fff"/>
<rect x="66" y="310" width="1" height="3" fill="#fff"/>
<rect x="68" y="310" width="1" height="3" fill="#fff"/>
<rect x="70" y="310" width="1" height="3" fill="#fff"/>
<rect x="75" y="310" width="1" height="3" fill="#fff"/>
<rect x="77" y="310" width="1" height="3" fill="#fff"/>
<rect x="79" y="310" width="1" height="3" fill="#fff"/>
<rect x="81" y="310" width="1" height="3" fill="#fff"/>
<rect x="83" y="310" width="1" height="3" fill="#fff"/>
<rect x="94" y="310" width="1" height="3" fill="#fff"/>
<rect x="96" y="310" width="1" height="3" fill="#fff"/>
<rect x="98" y="310" width="1" height="3" fill="#fff"/>
<rect x="149" y="310" width="1" height="3" fill="#fff"/>
<rect x="151" y="310" width="1" height="3" fill="#fff"/>
<rect x="162" y="310" width="1" height="3" fill="#fff"/>
<rect x="164" y="310" width="1" height="3" fill="#fff"/>
<rect x="166" y="310" width="1" height="3" fill="#fff"/>
<rect x="173" y="310" width="1" height="3" fill="#fff"/>
<rect x="175" y="310" width="1" height="3" fill="#fff"/>
<rect x="177" y="310" width="1" height="3" fill="#fff"/>
<rect x="179" y="310" width="1" height="3" fill="#fff"/>
<rect x="181" y="310" width="1" height="3" fill="#fff"/>
<rect x="183" y="310" width="1" height="3" fill="#fff"/>
<rect x="185" y="310" width="1" height="3" fill="#fff"/>
<rect x="190" y="310" width="1" height="3" fill="#fff"/>
<rect x="192" y="310" width="1" height="3" fill="#fff"/>
<rect x="194" y="310" width="1" height="3" fill="#fff"/>
<rect x="196" y="310" width="1" height="3" fill="#fff"/>
<rect x="198" y="310" width="1" height="3" fill="#fff"/>
<rect x="205" y="310" width="1" height="3" fill="#fff"/>
<rect x="207" y="310" width="1" height="3" fill="#fff"/>
<rect x="209" y="310" width="1" height="3" fill="#fff"/>
<rect x="211" y="310" width="1" height="3" fill="#fff"/>
<rect x="34" y="314" width="1" height="1" fill="#fff"/>
<rect x="47" y="314" width="1" height="1" fill="#fff"/>
<rect x="49" y="314" width="1" height="1" fill="#fff"/>
<rect x="51" y="314" width="1" height="1" fill="#fff"/>
<rect x="66" y="314" width="1" height="1" fill="#fff"/>
<rect x="81" y="314" width="1" height="1" fill="#fff"/>
<rect x="98" y="314" width="1" height="1" fill="#fff"/>
<rect x="149" y="314" width="1" height="1" fill="#fff"/>
<rect x="164" y="314" width="1" height="1" fill="#fff"/>
<rect x="166" y="314" width="1" height="1" fill="#fff"/>
<rect x="175" y="314" width="1" height="1" fill="#fff"/>
<rect x="177" y="314" width="1" height="1" fill="#fff"/>
<rect x="179" y="314" width="1" height="1" fill="#fff"/>
<rect x="181" y="314" width="1" height="1" fill="#fff"/>
<rect x="183" y="314" width="1" height="1" fill="#fff"/>
<rect x="192" y="314" width="1" height="1" fill="#fff"/>
<rect x="194" y="314" width="1" height="1" fill="#fff"/>
<rect x="209" y="314" width="1" height="1" fill="#fff"/>
<rect x="121" y="305" width="7" height="4" fill="#fff"/>
<rect x="13" y="317" width="222" height="13" fill="#000"/>
<rect x="14" y="318" width="6" height="3" fill="#fff"/>
<rect x="229" y="318" width="5" height="3" fill="#fff"/>
<rect x="14" y="323" width="6" height="3" fill="#fff"/>
<rect x="229" y="323" width="5" height="3" fill="#fff"/>
<rect x="14" y="327" width="6" height="2" fill="#fff"/>
<rect x="229" y="327" width="5" height="2" fill="#fff"/>
<rect x="23" y="319" width="8" height="8" fill="#fff"/>
<rect x="218" y="319" width="8" height="8" fill="#fff"/>
<rect x="31" y="318" width="1" height="11" fill="#fff"/>
<rect x="217" y="318" width="1" height="11" fill="#fff"/>
<rect x="216" y="318" width="1" height="11" fill="#fff"/>
<rect x="23" y="328" width="10" height="1" fill="#fff"/>
<rect x="216" y="328" width="10" height="1" fill="#fff"/>
<rect x="23" y="321" width="2" height="1" fill="#000"/>
<rect x="224" y="321" width="2" height="1" fill="#000"/>
<rect x="24" y="321" width="1" height="3" fill="#000"/>
<rect x="224" y="321" width="1" height="3" fill="#000"/>
<rect x="24" y="323" width="5" height="1" fill="#000"/>
<rect x="220" y="323" width="5" height="1" fill="#000"/>
<rect x="28" y="318" width="1" height="6" fill="#000"/>
<rect x="220" y="318" width="1" height="6" fill="#000"/>
<rect x="29" y="319" width="2" height="2" fill="#000"/>
<rect x="218" y="319" width="2" height="2" fill="#000"/>
<rect x="218" y="321" width="1" height="7" fill="#000"/>
<rect x="29" y="318" width="190" height="1" fill="#fff"/>
<rect x="31" y="328" width="186" height="1" fill="#fff"/>
<rect x="34" y="323" width="1" height="4" fill="#fff"/>
<rect x="36" y="323" width="1" height="4" fill="#fff"/>
<rect x="45" y="323" width="1" height="4" fill="#fff"/>
<rect x="47" y="323" width="1" height="4" fill="#fff"/>
<rect x="49" y="323" width="1" height="4" fill="#fff"/>
<rect x="51" y="323" width="1" height="4" fill="#fff"/>
<rect x="53" y="323" width="1" height="4" fill="#fff"/>
<rect x="60" y="323" width="1" height="4" fill="#fff"/>
<rect x="62" y="323" width="1" height="4" fill="#fff"/>
<rect x="64" y="323" width="1" height="4" fill="#fff"/>
<rect x="66" y="323" width="1" height="4" fill="#fff"/>
<rect x="68" y="323" width="1" height="4" fill="#fff"/>
<rect x="70" y="323" width="1" height="4" fill="#fff"/>
<rect x="75" y="323" width="1" height="4" fill="#fff"/>
<rect x="77" y="323" width="1" height="4" fill="#fff"/>
<rect x="79" y="323" width="1" height="4" fill="#fff"/>
<rect x="81" y="323" width="1" height="4" fill="#fff"/>
<rect x="83" y="323" width="1" height="4" fill="#fff"/>
<rect x="94" y="323" width="1" height="4" fill="#fff"/>
<rect x="96" y="323" width="1" height="4" fill="#fff"/>
<rect x="98" y="323" width="1" height="4" fill="#fff"/>
<rect x="149" y="323" width="1" height="4" fill="#fff"/>
<rect x="151" y="323" width="1" height="4" fill="#fff"/>
<rect x="162" y="323" width="1" height="4" fill="#fff"/>
<rect x="164" y="323" width="1" height="4" fill="#fff"/>
<rect x="166" y="323" width="1" height="4" fill="#fff"/>
<rect x="173" y="323" width="1" height="4" fill="#fff"/>
<rect x="175" y="323" width="1" height="4" fill="#fff"/>
<rect x="177" y="323" width="1" height="4" fill="#fff"/>
<rect x="179" y="323" width="1" height="4" fill="#fff"/>
<rect x="181" y="323" width="1" height="4" fill="#fff"/>
<rect x="183" y="323" width="1" height="4" fill="#fff"/>
<rect x="185" y="323" width="1" height="4" fill="#fff"/>
<rect x="190" y="323" width="1" height="4" fill="#fff"/>
<rect x="192" y="323" width="1" height="4" fill="#fff"/>
<rect x="194" y="323" width="1" height="4" fill="#fff"/>
<rect x="196" y="323" width="1" height="4" fill="#fff"/>
<rect x="198" y="323" width="1" height="4" fill="#fff"/>
<rect x="205" y="323" width="1" height="4" fill="#fff"/>
<rect x="207" y="323" width="1" height="4" fill="#fff"/>
<rect x="209" y="323" width="1" height="4" fill="#fff"/>
<rect x="211" y="323" width="1" height="4" fill="#fff"/>
<rect x="121" y="325" width="7" height="3" fill="#fff"/>
<rect x="109" y="325" width="1" height="2" fill="#fff"/>
<rect x="111" y="325" width="1" height="2" fill="#fff"/>
<rect x="113" y="325" width="1" height="2" fill="#fff"/>
<rect x="129" y="325" width="1" height="2" fill="#fff"/>
<rect x="131" y="325" width="1" height="2" fill="#fff"/>
<rect x="133" y="325" width="1" height="2" fill="#fff"/>
<rect x="135" y="325" width="1" height="2" fill="#fff"/>
<rect x="145" y="325" width="1" height="2" fill="#fff"/>
<rect x="147" y="324" width="1" height="3" fill="#fff"/>
<rect x="13" y="331" width="222" height="12" fill="#000"/>
<rect x="14" y="332" width="6" height="3" fill="#fff"/>
<rect x="229" y="332" width="5" height="3" fill="#fff"/>
<rect x="14" y="336" width="6" height="4" fill="#fff"/>
<rect x="229" y="336" width="5" height="4" fill="#fff"/>
<rect x="14" y="341" width="6" height="1" fill="#fff"/>
<rect x="229" y="341" width="5" height="1" fill="#fff"/>
<rect x="23" y="332" width="8" height="8" fill="#fff"/>
<rect x="218" y="332" width="8" height="8" fill="#fff"/>
<rect x="31" y="332" width="1" height="10" fill="#fff"/>
<rect x="217" y="332" width="1" height="10" fill="#fff"/>
<rect x="216" y="332" width="1" height="10" fill="#fff"/>
<rect x="23" y="341" width="10" height="1" fill="#fff"/>
<rect x="216" y="341" width="10" height="1" fill="#fff"/>
<rect x="23" y="334" width="2" height="1" fill="#000"/>
<rect x="224" y="334" width="2" height="1" fill="#000"/>
<rect x="24" y="334" width="1" height="3" fill="#000"/>
<rect x="224" y="334" width="1" height="3" fill="#000"/>
<rect x="24" y="336" width="5" height="1" fill="#000"/>
<rect x="220" y="336" width="5" height="1" fill="#000"/>
<rect x="28" y="331" width="1" height="6" fill="#000"/>
<rect x="220" y="331" width="1" height="6" fill="#000"/>
<rect x="29" y="332" width="2" height="2" fill="#000"/>
<rect x="218" y="332" width="2" height="2" fill="#000"/>
<rect x="218" y="334" width="1" height="7" fill="#000"/>
<rect x="34" y="337" width="1" height="3" fill="#fff"/>
<rect x="36" y="337" width="1" height="3" fill="#fff"/>
<rect x="45" y="337" width="1" height="3" fill="#fff"/>
<rect x="47" y="337" width="1" height="3" fill="#fff"/>
<rect x="49" y="337" width="1" height="3" fill="#fff"/>
<rect x="51" y="337" width="1" height="3" fill="#fff"/>
<rect x="53" y="337" width="1" height="3" fill="#fff"/>
<rect x="60" y="337" width="1" height="3" fill="#fff"/>
<rect x="62" y="337" width="1" height="3" fill="#fff"/>
<rect x="64" y="337" width="1" height="3" fill="#fff"/>
<rect x="66" y="337" width="1" height="3" fill="#fff"/>
<rect x="68" y="337" width="1" height="3" fill="#fff"/>
<rect x="70" y="337" width="1" height="3" fill="#fff"/>
<rect x="75" y="337" width="1" height="3" fill="#fff"/>
<rect x="77" y="337" width="1" height="3" fill="#fff"/>
<rect x="79" y="337" width="1" height="3" fill="#fff"/>
<rect x="81" y="337" width="1" height="3" fill="#fff"/>
<rect x="83" y="337" width="1" height="3" fill="#fff"/>
<rect x="94" y="337" width="1" height="3" fill="#fff"/>
<rect x="96" y="337" width="1" height="3" fill="#fff"/>
<rect x="98" y="337" width="1" height="3" fill="#fff"/>
<rect x="149" y="337" width="1" height="3" fill="#fff"/>
<rect x="151" y="337" width="1" height="3" fill="#fff"/>
<rect x="162" y="337" width="1" height="3" fill="#fff"/>
<rect x="164" y="337" width="1" height="3" fill="#fff"/>
<rect x="166" y="337" width="1" height="3" fill="#fff"/>
<rect x="173" y="337" width="1" height="3" fill="#fff"/>
<rect x="175" y="337" width="1" height="3" fill="#fff"/>
<rect x="177" y="337" width="1" height="3" fill="#fff"/>
<rect x="179" y="337" width="1" height="3" fill="#fff"/>
<rect x="181" y="337" width="1" height="3" fill="#fff"/>
<rect x="183" y="337" width="1" height="3" fill="#fff"/>
<rect x="185" y="337" width="1" height="3" fill="#fff"/>
<rect x="190" y="337" width="1" height="3" fill="#fff"/>
<rect x="192" y="337" width="1" height="3" fill="#fff"/>
<rect x="194" y="337" width="1" height="3" fill="#fff"/>
<rect x="196" y="337" width="1" height="3" fill="#fff"/>
<rect x="198" y="337" width="1" height="3" fill="#fff"/>
<rect x="205" y="337" width="1" height="3" fill="#fff"/>
<rect x="207" y="337" width="1" height="3" fill="#fff"/>
<rect x="209" y="337" width="1" height="3" fill="#fff"/>
<rect x="211" y="337" width="1" height="3" fill="#fff"/>
<rect x="34" y="341" width="1" height="1" fill="#fff"/>
<rect x="47" y="341" width="1" height="1" fill="#fff"/>
<rect x="49" y="341" width="1" height="1" fill="#fff"/>
<rect x="51" y="341" width="1" height="1" fill="#fff"/>
<rect x="66" y="341" width="1" height="1" fill="#fff"/>
<rect x="81" y="341" width="1" height="1" fill="#fff"/>
<rect x="98" y="341" width="1" height="1" fill="#fff"/>
<rect x="149" y="341" width="1" height="1" fill="#fff"/>
<rect x="164" y="341" width="1" height="1" fill="#fff"/>
<rect x="166" y="341" width="1" height="1" fill="#fff"/>
<rect x="175" y="341" width="1" height="1" fill="#fff"/>
<rect x="177" y="341" width="1" height="1" fill="#fff"/>
<rect x="179" y="341" width="1" height="1" fill="#fff"/>
<rect x="181" y="341" width="1" height="1" fill="#fff"/>
<rect x="183" y="341" width="1" height="1" fill="#fff"/>
<rect x="192" y="341" width="1" height="1" fill="#fff"/>
<rect x="194" y="341" width="1" height="1" fill="#fff"/>
<rect x="209" y="341" width="1" height="1" fill="#fff"/>
<rect x="121" y="333" width="7" height="4" fill="#fff"/>
<rect x="13" y="344" width="222" height="13" fill="#000"/>
<rect x="14" y="346" width="6" height="3" fill="#fff"/>
<rect x="229" y="346" width="5" height="3" fill="#fff"/>
<rect x="14" y="350" width="6" height="3" fill="#fff"/>
<rect x="229" y="350" width="5" height="3" fill="#fff"/>
<rect x="14" y="354" width="6" height="2" fill="#fff"/>
<rect x="229" y="354" width="5" height="2" fill="#fff"/>
<rect x="23" y="346" width="8" height="8" fill="#fff"/>
<rect x="218" y="346" width="8" height="8" fill="#fff"/>
<rect x="31" y="345" width="1" height="11" fill="#fff"/>
<rect x="217" y="345" width="1" height="11" fill="#fff"/>
<rect x="216" y="345" width="1" height="11" fill="#fff"/>
<rect x="23" y="355" width="10" height="1" fill="#fff"/>
<rect x="216" y="355" width="10" height="1" fill="#fff"/>
<rect x="23" y="348" width="2" height="1" fill="#000"/>
<rect x="224" y="348" width="2" height="1" fill="#000"/>
<rect x="24" y="348" width="1" height="3" fill="#000"/>
<rect x="224" y="348" width="1" height="3" fill="#000"/>
<rect x="24" y="350" width="5" height="1" fill="#000"/>
<rect x="220" y="350" width="5" height="1" fill="#000"/>
<rect x="28" y="345" width="1" height="6" fill="#000"/>
<rect x="220" y="345" width="1" height="6" fill="#000"/>
<rect x="29" y="346" width="2" height="2" fill="#000"/>
<rect x="218" y="346" width="2" height="2" fill="#000"/>
<rect x="218" y="348" width="1" height="7" fill="#000"/>
<rect x="29" y="345" width="190" height="1" fill="#fff"/>
<rect x="31" y="355" width="186" height="1" fill="#fff"/>
<rect x="34" y="350" width="1" height="4" fill="#fff"/>
<rect x="36" y="350" width="1" height="4" fill="#fff"/>
<rect x="45" y="350" width="1" height="4" fill="#fff"/>
<rect x="47" y="350" width="1" height="4" fill="#fff"/>
<rect x="49" y="350" width="1" height="4" fill="#fff"/>
<rect x="51" y="350" width="1" height="4" fill="#fff"/>
<rect x="53" y="350" width="1" height="4" fill="#fff"/>
<rect x="60" y="350" width="1" height="4" fill="#fff"/>
<rect x="62" y="350" width="1" height="4" fill="#fff"/>
<rect x="64" y="350" width="1" height="4" fill="#fff"/>
<rect x="66" y="350" width="1" height="4" fill="#fff"/>
<rect x="68" y="350" width="1" height="4" fill="#fff"/>
<rect x="70" y="350" width="1" height="4" fill="#fff"/>
<rect x="75" y="350" width="1" height="4" fill="#fff"/>
<rect x="77" y="350" width="1" height="4" fill="#fff"/>
<rect x="79" y="350" width="1" height="4" fill="#fff"/>
<rect x="81" y="350" width="1" height="4" fill="#fff"/>
<rect x="83" y="350" width="1" height="4" fill="#fff"/>
<rect x="94" y="350" width="1" height="4" fill="#fff"/>
<rect x="96" y="350" width="1" height="4" fill="#fff"/>
<rect x="98" y="350" width="1" height="4" fill="#fff"/>
<rect x="149" y="350" width="1" height="4" fill="#fff"/>
<rect x="151" y="350" width="1" height="4" fill="#fff"/>
<rect x="162" y="350" width="1" height="4" fill="#fff"/>
<rect x="164" y="350" width="1" height="4" fill="#fff"/>
<rect x="166" y="350" width="1" height="4" fill="#fff"/>
<rect x="173" y="350" width="1" height="4" fill="#fff"/>
<rect x="175" y="350" width="1" height="4" fill="#fff"/>
<rect x="177" y="350" width="1" height="4" fill="#fff"/>
<rect x="179" y="350" width="1" height="4" fill="#fff"/>
<rect x="181" y="350" width="1" height="4" fill="#fff"/>
<rect x="183" y="350" width="1" height="4" fill="#fff"/>
<rect x="185" y="350" width="1" height="4" fill="#fff"/>
<rect x="190" y="350" width="1" height="4" fill="#fff"/>
<rect x="192" y="350" width="1" height="4" fill="#fff"/>
<rect x="194" y="350" width="1" height="4" fill="#fff"/>
<rect x="196" y="350" width="1" height="4" fill="#fff"/>
<rect x="198" y="350" width="1" height="4" fill="#fff"/>
<rect x="205" y="350" width="1" height="4" fill="#fff"/>
<rect x="207" y="350" width="1" height="4" fill="#fff"/>
<rect x="209" y="350" width="1" height="4" fill="#fff"/>
<rect x="211" y="350" width="1" height="4" fill="#fff"/>
<rect x="121" y="352" width="7" height="3" fill="#fff"/>
<rect x="109" y="352" width="1" height="2" fill="#fff"/>
<rect x="111" y="352" width="1" height="2" fill="#fff"/>
<rect x="113" y="352" width="1" height="2" fill="#fff"/>
<rect x="129" y="352" width="1" height="2" fill="#fff"/>
<rect x="131" y="352" width="1" height="2" fill="#fff"/>
<rect x="133" y="352" width="1" height="2" fill="#fff"/>
<rect x="135" y="352" width="1" height="2" fill="#fff"/>
<rect x="145" y="352" width="1" height="2" fill="#fff"/>
<rect x="147" y="351" width="1" height="3" fill="#fff"/>
<g shape-rendering="geometricPrecision">
<polygon points="100,309 148,309 148,309 148,325 148,325 100,325 100,325 100,309" fill="#000"/>
<polygon points="103.2,311 144.8,311 146,312.2 146,321.8 144.8,323 103.2,323 102,321.8 102,312.2" fill="#fff"/>
</g>
<g shape-rendering="geometricPrecision">
<polygon points="100,336 148,336 148,336 148,351 148,351 100,351 100,351 100,336" fill="#000"/>
<polygon points="103.2,338 144.8,338 146,339.2 146,347.8 144.8,349 103.2,349 102,347.8 102,339.2" fill="#fff"/>
</g>
<rect x="274" y="300" width="10" height="81" fill="#000"/>
<rect x="275" y="375" width="8" height="1" fill="#fff"/>
<rect x="275" y="371" width="8" height="1" fill="#fff"/>
<rect x="275" y="366" width="8" height="1" fill="#fff"/>
<rect x="275" y="361" width="8" height="1" fill="#fff"/>
<rect x="275" y="356" width="8" height="1" fill="#fff"/>
<rect x="275" y="352" width="8" height="1" fill="#fff"/>
<rect x="275" y="347" width="8" height="1" fill="#fff"/>
<rect x="275" y="342" width="8" height="1" fill="#fff"/>
<rect x="275" y="338" width="8" height="1" fill="#fff"/>
<rect x="275" y="333" width="8" height="1" fill="#fff"/>
<rect x="275" y="328" width="8" height="1" fill="#fff"/>
<rect x="275" y="324" width="8" height="1" fill="#fff"/>
<rect x="275" y="319" width="8" height="1" fill="#fff"/>
<rect x="275" y="314" width="8" height="1" fill="#fff"/>
<rect x="275" y="310" width="8" height="1" fill="#fff"/>
<rect x="275" y="305" width="8" height="1" fill="#fff"/>
<rect x="293" y="286" width="10" height="95" fill="#000"/>
<rect x="294" y="375" width="8" height="1" fill="#fff"/>
<rect x="294" y="371" width="8" height="1" fill="#fff"/>
<rect x="294" y="366" width="8" height="1" fill="#fff"/>
<rect x="294" y="361" width="8" height="1" fill="#fff"/>
<rect x="294" y="356" width="8" height="1" fill="#fff"/>
<rect x="294" y="352" width="8" height="1" fill="#fff"/>
<rect x="294" y="347" width="8" height="1" fill="#fff"/>
<rect x="294" y="342" width="8" height="1" fill="#fff"/>
<rect x="294" y="338" width="8" height="1" fill="#fff"/>
<rect x="294" y="333" width="8" height="1" fill="#fff"/>
<rect x="294" y="328" width="8" height="1" fill="#fff"/>
<rect x="294" y="324" width="8" height="1" fill="#fff"/>
<rect x="294" y="319" width="8" height="1" fill="#fff"/>
<rect x="294" y="314" width="8" height="1" fill="#fff"/>
<rect x="294" y="310" width="8" height="1" fill="#fff"/>
<rect x="294" y="305" width="8" height="1" fill="#fff"/>
<rect x="294" y="295" width="8" height="1" fill="#fff"/>
<rect x="294" y="291" width="8" height="1" fill="#fff"/>
<g shape-rendering="geometricPrecision">
<polygon points="230.6,358 260.4,358 262,359.6 262,369.4 260.4,371 230.6,371 229,369.4 229,359.6" fill="#000"/>
<polygon points="231.8,360 259.2,360 260,360.8 260,368.2 259.2,369 231.8,369 231,368.2 231,360.8" fill="#fff"/>
</g>
<g shape-rendering="geometricPrecision">
<polygon points="260.5,361 270,363.5 270,365.5 260.5,368" fill="#000"/>
<polygon points="259.8,362.6 268.8,364.5 259.8,366.4" fill="#fff"/>
</g>
<rect x="270" y="363.5" width="4" height="2" fill="#000"/>
<rect x="274" y="363.5" width="0" height="2" fill="#000"/>
<g shape-rendering="geometricPrecision">
<polygon points="315.6,345 346.4,345 348,346.6 348,358.4 346.4,360 315.6,360 314,358.4 314,346.6" fill="#000"/>
<polygon points="316.8,347 345.2,347 346,347.8 346,357.2 345.2,358 316.8,358 316,357.2 316,347.8" fill="#fff"/>
</g>
<g shape-rendering="geometricPrecision">
<polygon points="315.5,349.7 310.5,351 310.5,355 315.5,356.3" fill="#000"/>
<polygon points="316.2,351.3 311.7,353 316.2,354.7" fill="#fff"/>
</g>
<rect x="305" y="351" width="5.5" height="4" fill="#000"/>
<rect x="303" y="352" width="2" height="2" fill="#000"/>
<rect x="273" y="387" width="13" height="36" fill="#000"/>
<rect x="274" y="389" width="1" height="32" fill="#fff"/>
<rect x="276" y="390" width="7" height="30" fill="#fff"/>
<rect x="277" y="391" width="5" height="5" fill="#000"/>
<rect x="277" y="398" width="5" height="5" fill="#000"/>
<rect x="277" y="406" width="5" height="5" fill="#000"/>
<rect x="277" y="413" width="5" height="6" fill="#000"/>
<g shape-rendering="geometricPrecision">
<polygon points="298.6,396 328.4,396 330,397.6 330,410.4 328.4,412 298.6,412 297,410.4 297,397.6" fill="#000"/>
<polygon points="299.8,398 327.2,398 328,398.8 328,409.2 327.2,410 299.8,410 299,409.2 299,398.8" fill="#fff"/>
</g>
<g shape-rendering="geometricPrecision">
<polygon points="298.5,400.2 293.5,401.5 293.5,405.5 298.5,406.8" fill="#000"/>
<polygon points="299.2,401.8 294.7,403.5 299.2,405.2" fill="#fff"/>
</g>
<rect x="288" y="401.5" width="5.5" height="4" fill="#000"/>
<rect x="286" y="402.5" width="2" height="2" fill="#000"/>
<rect x="261" y="407" width="6" height="15" fill="#000"/>
<rect x="262" y="412" width="4" height="1" fill="#fff"/>
<rect x="262" y="417" width="4" height="1" fill="#fff"/>
<g shape-rendering="geometricPrecision">
<polygon points="216.6,406 246.4,406 248,407.6 248,418.4 246.4,420 216.6,420 215,418.4 215,407.6" fill="#000"/>
<polygon points="217.8,408 245.2,408 246,408.8 246,417.2 245.2,418 217.8,418 217,417.2 217,408.8" fill="#fff"/>
</g>
<g shape-rendering="geometricPrecision">
<polygon points="246.5,410 256,412.5 256,414.5 246.5,417" fill="#000"/>
<polygon points="245.8,411.6 254.8,413.5 245.8,415.4" fill="#fff"/>
</g>
<rect x="256" y="412.5" width="5" height="2" fill="#000"/>
<rect x="261" y="412.5" width="0" height="2" fill="#000"/>
<rect x="381" y="285" width="10" height="95" fill="#000"/>
<rect x="385" y="286" width="1" height="93" fill="#fff"/>
<rect x="382" y="290" width="8" height="1" fill="#fff"/>
<rect x="382" y="295" width="8" height="1" fill="#fff"/>
<rect x="382" y="304" width="8" height="1" fill="#fff"/>
<rect x="382" y="313" width="8" height="1" fill="#fff"/>
<rect x="382" y="318" width="8" height="1" fill="#fff"/>
<rect x="382" y="323" width="8" height="1" fill="#fff"/>
<rect x="382" y="327" width="8" height="1" fill="#fff"/>
<rect x="382" y="331" width="8" height="1" fill="#fff"/>
<rect x="382" y="336" width="8" height="1" fill="#fff"/>
<rect x="382" y="341" width="8" height="1" fill="#fff"/>
<rect x="382" y="346" width="8" height="1" fill="#fff"/>
<rect x="382" y="351" width="8" height="1" fill="#fff"/>
<rect x="382" y="355" width="8" height="1" fill="#fff"/>
<rect x="382" y="360" width="8" height="1" fill="#fff"/>
<rect x="382" y="365" width="8" height="1" fill="#fff"/>
<rect x="382" y="374" width="8" height="1" fill="#fff"/>
<g shape-rendering="geometricPrecision">
<polygon points="336.6,287 366.4,287 368,288.6 368,300.4 366.4,302 336.6,302 335,300.4 335,288.6" fill="#000"/>
<polygon points="337.8,289 365.2,289 366,289.8 366,299.2 365.2,300 337.8,300 337,299.2 337,289.8" fill="#fff"/>
</g>
<g shape-rendering="geometricPrecision">
<polygon points="366.5,290.5 374,293 374,295 366.5,297.5" fill="#000"/>
<polygon points="365.8,292.1 372.8,294 365.8,295.9" fill="#fff"/>
</g>
<rect x="374" y="293" width="7" height="2" fill="#000"/>
<rect x="381" y="293" width="0" height="2" fill="#000"/>
<g shape-rendering="geometricPrecision">
<polygon points="455.6,291 479.4,291 481,292.6 481,304.4 479.4,306 455.6,306 454,304.4 454,292.6" fill="#000"/>
<polygon points="456.8,293 478.2,293 479,293.8 479,303.2 478.2,304 456.8,304 456,303.2 456,293.8" fill="#fff"/>
</g>
<g shape-rendering="geometricPrecision">
<polygon points="463.7,304.5 465.3,309 468.7,309 470.3,304.5" fill="#000"/>
<polygon points="465.3,303.8 467,307.8 468.7,303.8" fill="#fff"/>
</g>
<rect x="465.3" y="309" width="3.4" height="8" fill="#000"/>
<rect x="466" y="317" width="2" height="2" fill="#000"/>
<rect x="462" y="319" width="11" height="6" fill="#000"/>
<rect x="463" y="320" width="2" height="4" fill="#fff"/>
<rect x="466" y="320" width="2" height="4" fill="#fff"/>
<circle cx="418.2" cy="368.8" r="18.1" fill="#fff" stroke="#000" stroke-width="1.25" shape-rendering="geometricPrecision"/>
<rect x="436" y="362" width="13" height="14" fill="#000"/>
<path d="M448.5 366.5 H410 L406.5 368 V370 L410 371.5 H448.5 Z" fill="#fff" stroke="#000" stroke-width="1" shape-rendering="geometricPrecision"/>
<rect x="415" y="367" width="1" height="4" fill="#000"/>
<rect x="436" y="366" width="13" height="1" fill="#000"/>
<rect x="436" y="371" width="13" height="1" fill="#000"/>
<rect x="461" y="358" width="90" height="20" fill="#000"/>
<rect x="462" y="359" width="88" height="18" fill="#fff"/>
<rect x="464" y="360" width="3" height="1" fill="#000"/>
<rect x="463" y="361" width="6" height="2" fill="#000"/>
<rect x="465" y="363" width="2" height="1" fill="#000"/>
<rect x="463" y="366" width="6" height="2" fill="#000"/>
<rect x="471" y="360" width="3" height="1" fill="#000"/>
<rect x="470" y="361" width="6" height="2" fill="#000"/>
<rect x="472" y="363" width="2" height="1" fill="#000"/>
<rect x="470" y="366" width="6" height="2" fill="#000"/>
<rect x="479" y="360" width="3" height="1" fill="#000"/>
<rect x="478" y="361" width="6" height="2" fill="#000"/>
<rect x="480" y="363" width="2" height="1" fill="#000"/>
<rect x="478" y="366" width="6" height="2" fill="#000"/>
<rect x="486" y="360" width="3" height="1" fill="#000"/>
<rect x="485" y="361" width="6" height="2" fill="#000"/>
<rect x="487" y="363" width="2" height="1" fill="#000"/>
<rect x="485" y="366" width="6" height="2" fill="#000"/>
<rect x="493" y="360" width="3" height="1" fill="#000"/>
<rect x="492" y="361" width="6" height="2" fill="#000"/>
<rect x="494" y="363" width="2" height="1" fill="#000"/>
<rect x="492" y="366" width="6" height="2" fill="#000"/>
<rect x="501" y="360" width="3" height="1" fill="#000"/>
<rect x="500" y="361" width="6" height="2" fill="#000"/>
<rect x="502" y="363" width="2" height="1" fill="#000"/>
<rect x="500" y="366" width="6" height="2" fill="#000"/>
<rect x="508" y="360" width="3" height="1" fill="#000"/>
<rect x="507" y="361" width="6" height="2" fill="#000"/>
<rect x="509" y="363" width="2" height="1" fill="#000"/>
<rect x="507" y="366" width="6" height="2" fill="#000"/>
<rect x="515" y="360" width="3" height="1" fill="#000"/>
<rect x="514" y="361" width="6" height="2" fill="#000"/>
<rect x="516" y="363" width="2" height="1" fill="#000"/>
<rect x="514" y="366" width="6" height="2" fill="#000"/>
<rect x="523" y="360" width="3" height="1" fill="#000"/>
<rect x="522" y="361" width="6" height="2" fill="#000"/>
<rect x="524" y="363" width="2" height="1" fill="#000"/>
<rect x="522" y="366" width="6" height="2" fill="#000"/>
<rect x="530" y="360" width="3" height="1" fill="#000"/>
<rect x="529" y="361" width="6" height="2" fill="#000"/>
<rect x="531" y="363" width="2" height="1" fill="#000"/>
<rect x="529" y="366" width="6" height="2" fill="#000"/>
<rect x="538" y="360" width="3" height="1" fill="#000"/>
<rect x="537" y="361" width="6" height="2" fill="#000"/>
<rect x="539" y="363" width="2" height="1" fill="#000"/>
<rect x="537" y="366" width="6" height="2" fill="#000"/>
<rect x="545" y="360" width="3" height="1" fill="#000"/>
<rect x="544" y="361" width="6" height="2" fill="#000"/>
<rect x="546" y="363" width="2" height="1" fill="#000"/>
<rect x="544" y="366" width="6" height="2" fill="#000"/>
<rect x="462" y="364" width="88" height="1" fill="#000"/>
<rect x="478" y="366" width="13" height="2" fill="#000"/>
<rect x="466" y="369" width="6" height="6" fill="#000"/>
<rect x="467" y="370" width="4" height="4" fill="#fff"/>
<rect x="474" y="369" width="6" height="6" fill="#000"/>
<rect x="475" y="370" width="4" height="4" fill="#fff"/>
<rect x="481" y="369" width="7" height="6" fill="#000"/>
<rect x="482" y="370" width="5" height="4" fill="#fff"/>
<rect x="489" y="369" width="6" height="6" fill="#000"/>
<rect x="490" y="370" width="4" height="4" fill="#fff"/>
<rect x="496" y="369" width="6" height="6" fill="#000"/>
<rect x="497" y="370" width="4" height="4" fill="#fff"/>
<rect x="504" y="369" width="6" height="6" fill="#000"/>
<rect x="505" y="370" width="4" height="4" fill="#fff"/>
<rect x="511" y="369" width="6" height="6" fill="#000"/>
<rect x="512" y="370" width="4" height="4" fill="#fff"/>
<rect x="518" y="369" width="6" height="6" fill="#000"/>
<rect x="519" y="370" width="4" height="4" fill="#fff"/>
<rect x="525" y="369" width="7" height="6" fill="#000"/>
<rect x="526" y="370" width="5" height="4" fill="#fff"/>
<rect x="533" y="369" width="6" height="6" fill="#000"/>
<rect x="534" y="370" width="4" height="4" fill="#fff"/>
<rect x="541" y="369" width="6" height="6" fill="#000"/>
<rect x="542" y="370" width="4" height="4" fill="#fff"/>
<rect x="462" y="369" width="2" height="2" fill="#000"/>
<rect x="462" y="373" width="2" height="2" fill="#000"/>
<rect x="461" y="371" width="1" height="2" fill="#fff"/>
<rect x="548" y="369" width="2" height="6" fill="#000"/>
<rect x="550" y="370" width="1" height="3" fill="#fff"/>
<rect x="557" y="381" width="5" height="21" fill="#000"/>
<rect x="558" y="386" width="3" height="1" fill="#fff"/>
<rect x="558" y="395" width="3" height="1" fill="#fff"/>
<rect x="558" y="400" width="3" height="1" fill="#fff"/>
<g shape-rendering="geometricPrecision">
<polygon points="518,385 543,385 545,387 545,398 543,400 518,400 516,398 516,387" fill="#000"/>
<polygon points="519.8,387 542.2,387 543,387.8 543,397.2 542.2,398 519.8,398 519,397.2 519,387.8" fill="#fff"/>
</g>
<g shape-rendering="geometricPrecision">
<polygon points="543.5,388.1 551,390.1 551,393.1 543.5,395.1" fill="#000"/>
<polygon points="542.8,389.7 549.8,391.6 542.8,393.5" fill="#fff"/>
</g>
<rect x="551" y="390.1" width="6" height="3" fill="#000"/>
<rect x="557" y="390.6" width="0" height="2" fill="#000"/>
<text transform="translate(97,79.0) rotate(-90) scale(0.86,1)" font-size="12" fill="#fff">A</text>
<text transform="translate(97,68.4) rotate(-90) scale(0.92,1)" font-size="12" fill="#fff">M</text>
<text transform="translate(97,57.3) rotate(-90) scale(0.86,1)" font-size="12" fill="#fff">P</text>
<text x="157.3" y="103" font-size="11" text-anchor="middle" fill="#000" letter-spacing="0" >CPU</text>
<text x="236.25" y="38.5" font-size="11" text-anchor="middle" fill="#000" letter-spacing="0" >J1</text>
<text x="252.3" y="21.6" font-size="11" text-anchor="middle" fill="#000" letter-spacing="0" >J2</text>
<text x="289.3" y="14.9" font-size="11" text-anchor="middle" fill="#000" letter-spacing="0" >J5</text>
<text x="316.8" y="20.9" font-size="11" text-anchor="middle" fill="#000" letter-spacing="0" >J7</text>
<text x="340.3" y="38.5" font-size="11" text-anchor="middle" fill="#000" letter-spacing="0" >J9</text>
<text x="259.2" y="57.5" font-size="11" text-anchor="middle" fill="#000" letter-spacing="0" >J3</text>
<text x="262.8" y="71.7" font-size="11" text-anchor="middle" fill="#000" letter-spacing="0" >J4</text>
<text x="324" y="56.9" font-size="11" text-anchor="middle" fill="#000" letter-spacing="0" >J8</text>
<text x="314" y="70.8" font-size="11" text-anchor="middle" fill="#000" letter-spacing="0" >J6</text>
<text x="458.5" y="15.5" font-size="11" text-anchor="middle" fill="#000" letter-spacing="0" >C2</text>
<text x="522.7" y="13.8" font-size="11" text-anchor="middle" fill="#000" letter-spacing="0" >C3</text>
<text x="524.2" y="55.7" font-size="9.5" text-anchor="middle" fill="#000" letter-spacing="0.4" >34714</text>
<text x="617.3" y="54" font-size="11" text-anchor="middle" fill="#000" letter-spacing="0" >CN1</text>
<text x="617.2" y="129" font-size="11" text-anchor="middle" fill="#000" letter-spacing="0" >CN2</text>
<text x="617.2" y="205.5" font-size="11" text-anchor="middle" fill="#000" letter-spacing="0" >CN3</text>
<text x="616.5" y="262" font-size="11" text-anchor="middle" fill="#000" letter-spacing="0" >CN4</text>
<text x="602.2" y="315" font-size="11" text-anchor="middle" fill="#000" letter-spacing="0" >CN5</text>
<text x="656" y="362" font-size="11" text-anchor="middle" fill="#000" letter-spacing="0" >CN6</text>
<text x="605" y="397.5" font-size="11" text-anchor="middle" fill="#000" letter-spacing="0" >CN7</text>
<text x="663" y="397" font-size="11" text-anchor="middle" fill="#000" letter-spacing="0" >CN8</text>
<text x="662.5" y="417.5" font-size="11" text-anchor="middle" fill="#000" letter-spacing="0" >CN9</text>
<text x="121.2" y="236" font-size="11" text-anchor="middle" fill="#000" letter-spacing="0" >SL2</text>
<text x="411.6" y="236.5" font-size="11" text-anchor="middle" fill="#000" letter-spacing="0" >SL1</text>
<text x="48.3" y="272" font-size="11" text-anchor="middle" fill="#000" letter-spacing="0" >C1</text>
<text x="123" y="319" font-size="11" text-anchor="middle" fill="#000" letter-spacing="0" >BANK 1</text>
<text x="124" y="346.7" font-size="11" text-anchor="middle" fill="#000" letter-spacing="0" >BANK 0</text>
<text x="245.3" y="368.3" font-size="11" text-anchor="middle" fill="#000" letter-spacing="0" >CN12</text>
<text x="330.6" y="356" font-size="11" text-anchor="middle" fill="#000" letter-spacing="0" >CN11</text>
<text x="313.3" y="407" font-size="11" text-anchor="middle" fill="#000" letter-spacing="0" >CN13</text>
<text x="231.3" y="417" font-size="11" text-anchor="middle" fill="#000" letter-spacing="0" >CN14</text>
<text x="351.2" y="297.7" font-size="11" text-anchor="middle" fill="#000" letter-spacing="0" >CN10</text>
<text x="457.3" y="302.7" font-size="11" text-anchor="start" fill="#000" letter-spacing="0" >J1</text>
<text x="469.3" y="302.7" font-size="11" text-anchor="start" fill="#000" letter-spacing="0" >0</text>
<text x="530.6" y="394.8" font-size="11" text-anchor="middle" fill="#000" letter-spacing="0" >J11</text>
</svg>
</body></html>
